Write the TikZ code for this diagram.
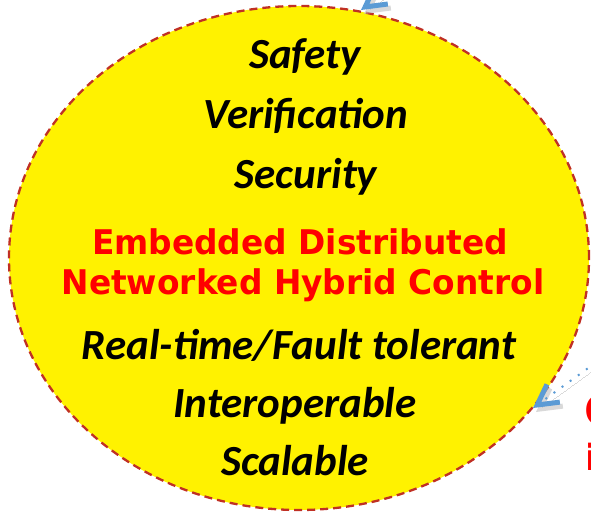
\documentclass[tikz,border=0pt]{standalone}
\usepackage{fontspec}
\usetikzlibrary{arrows.meta,shapes.geometric}
\newfontfamily\calibfont{Carlito}
\newfontfamily\tahfont{DejaVu Sans}
\definecolor{ringred}{RGB}{192,48,36}
\definecolor{arrowblue}{RGB}{91,155,213}
\definecolor{txtred}{RGB}{255,0,0}
\tikzset{
  quality/.style={anchor=base, inner sep=0pt, font=\calibfont\bfseries\itshape\fontsize{43}{48}\selectfont, text=black},
  redtitle/.style={anchor=base, inner sep=0pt, font=\tahfont\bfseries\fontsize{34}{40}\selectfont, text=txtred},
  ringstyle/.style={ellipse, draw=ringred, fill=yellow, line width=2.3pt, dash pattern=on 8pt off 5pt, minimum width=580pt, minimum height=504pt, inner sep=0pt},
  pointer/.style={draw=arrowblue, line width=2pt, dash pattern=on 2pt off 8pt, -{Straight Barb[length=20pt, width=22pt, line width=5pt]}},
  pointershadow/.style={draw=black!25, opacity=0.6, line width=0pt, -{Straight Barb[length=20pt, width=22pt, line width=5pt]}},
}
\begin{document}
\begin{tikzpicture}[x=1pt,y=1pt]
\useasboundingbox (0,0) rectangle (591,512);
\clip (0,0) rectangle (591,512);
\node[ringstyle] (ring) at (299,254) {};
% arrows
\coordinate (rsrc) at (620,167);
\coordinate (rtip) at (533,104);
\coordinate (tsrc) at (450,567);
\coordinate (ttip) at (361,502);
\coordinate (rsrcs) at (623,163);
\coordinate (rtips) at (536,100);
\coordinate (tsrcs) at (453,563);
\coordinate (ttips) at (364,498);
\path[pointershadow] (rsrcs) -- (rtips);
\path[pointershadow] (tsrcs) -- (ttips);
\draw[pointer] (rsrc) -- (rtip);
\draw[pointer] (tsrc) -- (ttip);
% texts
\node[quality] (safety) at (305,443) {Safety};
\node[quality] (verif) at (306,383) {Verification};
\node[quality] (secur) at (306,323) {Security};
\node[redtitle] (emb) at (300,258) {\scalebox{0.965}[1]{Embedded Distributed}};
\node[redtitle] (net) at (303,218) {\scalebox{0.965}[1]{Networked Hybrid Control}};
\node[quality] (rt) at (299,153) {Real-time/Fault tolerant};
\node[quality] (inter) at (295,95) {Interoperable};
\node[quality] (scal) at (295,37) {Scalable};
\node[anchor=base west, inner sep=0pt, font=\tahfont\bfseries\fontsize{44}{48}\selectfont, text=txtred] (cfrag) at (584,86) {C};
\node[anchor=base west, inner sep=0pt, font=\tahfont\bfseries\fontsize{36}{40}\selectfont, text=txtred] (ifrag) at (585,42) {i};
\end{tikzpicture}
\end{document}
